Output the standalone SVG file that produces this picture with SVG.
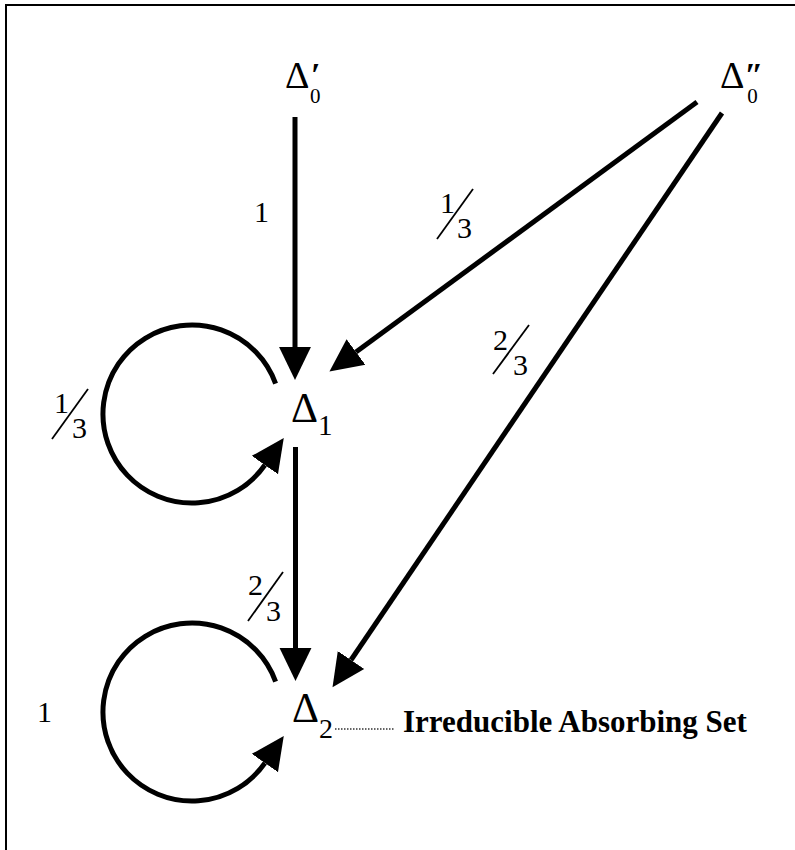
<svg xmlns="http://www.w3.org/2000/svg" width="795" height="850" viewBox="0 0 795 850">
<style>
.t{font-family:"Liberation Serif","Times New Roman",serif;fill:#000}
.big{font-size:38px}
.bigger{font-size:42px}
.fr{font-size:30px}
.sl{stroke:#000;stroke-width:1.8;fill:none}
.edge{stroke:#000;stroke-width:5;fill:none}
.lbl{font-family:"Liberation Serif","Times New Roman",serif;font-weight:bold;font-size:31px}
</style>
<defs>
<marker id="ah" markerUnits="userSpaceOnUse" markerWidth="34" markerHeight="34" refX="0" refY="15" orient="auto" viewBox="0 0 32 30">
<path d="M0,0 L31,15 L0,30 Z" fill="#000"/>
</marker>
</defs>
<rect x="6" y="5" width="820" height="880" fill="#fff" stroke="#000" stroke-width="2"/>
<g id="connectors">
<line class="edge" x1="295" y1="117" x2="295" y2="347" marker-end="url(#ah)"/>
<line class="edge" x1="295.5" y1="447" x2="295.5" y2="648" marker-end="url(#ah)"/>
<line class="edge" x1="697" y1="102" x2="356" y2="352" marker-end="url(#ah)"/>
<line class="edge" x1="722" y1="113" x2="351" y2="660" marker-end="url(#ah)"/>
<path class="edge" d="M275.6,383.6 A89,89 0 1 0 264.9,465" marker-end="url(#ah)"/>
<path class="edge" d="M275.6,681.6 A89,89 0 1 0 264.9,763" marker-end="url(#ah)"/>
<line x1="335" y1="729" x2="394" y2="729" stroke="#333" stroke-width="1.5" stroke-dasharray="1.5 1.5"/>
</g>
<g id="labels">
<text class="t fr" x="254" y="222">1</text>
<g id="frac-loop1"><text class="t fr" x="54" y="413">1</text><line class="sl" x1="52" y1="439" x2="88" y2="389"/><text class="t fr" x="72" y="438">3</text></g>
<g id="frac-r1"><text class="t fr" x="440" y="213">1</text><line class="sl" x1="437" y1="239" x2="473" y2="189"/><text class="t fr" x="457" y="238">3</text></g>
<g id="frac-r2"><text class="t fr" x="493" y="350">2</text><line class="sl" x1="493" y1="374" x2="529" y2="325"/><text class="t fr" x="513" y="375">3</text></g>
<g id="frac-mid"><text class="t fr" x="248" y="595">2</text><line class="sl" x1="248" y1="621" x2="283" y2="572"/><text class="t fr" x="266" y="621">3</text></g>
<text class="t fr" x="37" y="722">1</text>
</g>
<g id="node-d0p"><text class="t big" x="285" y="88">Δ<tspan font-size="34" font-weight="bold" font-style="italic" dx="1" dy="-2">′</tspan><tspan font-size="21" dx="-10" dy="17">0</tspan></text></g>
<g id="node-d0pp"><text class="t big" x="720" y="88">Δ<tspan font-size="34" font-weight="bold" font-style="italic" dx="0" dy="-2">″</tspan><tspan font-size="21" dx="-16" dy="17">0</tspan></text></g>
<g id="node-d1"><text class="t bigger" x="291" y="422">Δ<tspan font-size="29" dy="13">1</tspan></text></g>
<g id="node-d2"><text class="t bigger" x="292" y="722">Δ<tspan font-size="28" dy="16">2</tspan></text></g>
<g id="node-set"><text class="lbl" x="403" y="732">Irreducible Absorbing Set</text></g>
</svg>
